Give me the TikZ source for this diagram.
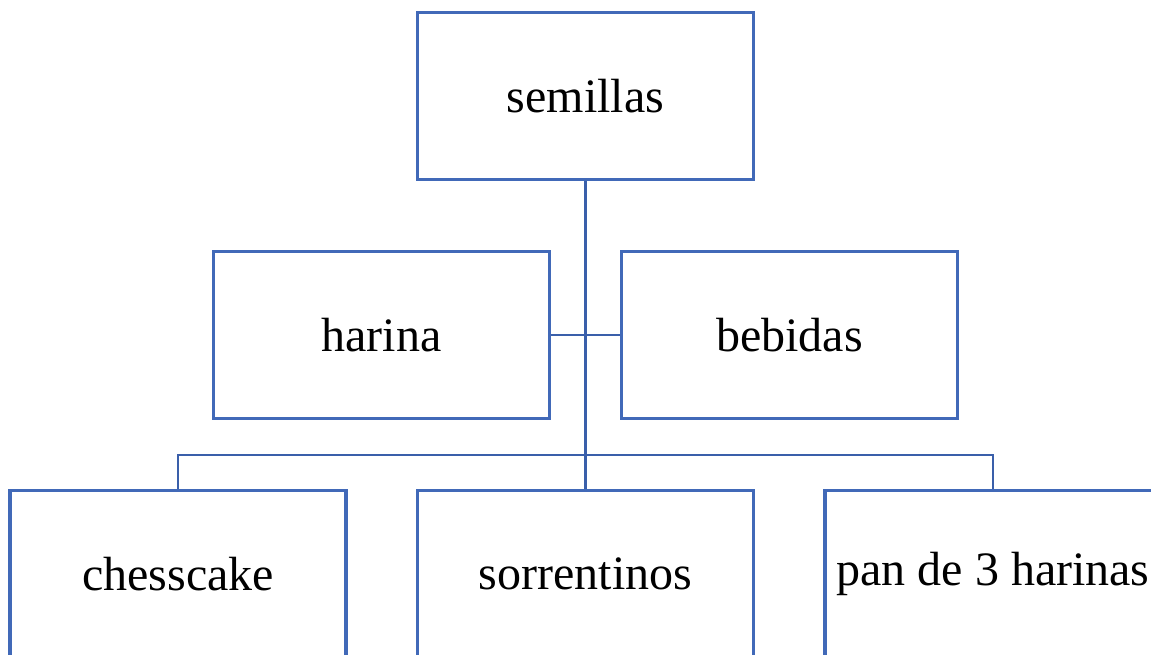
\documentclass[tikz,border=0pt]{standalone}
\usepackage{fontspec}
\setmainfont{Liberation Serif}
\definecolor{boxblue}{HTML}{4169B8}
\definecolor{linkblue}{HTML}{3A5FAA}
\begin{document}
\begin{tikzpicture}[x=1pt,y=-1pt,
  box/.style={draw=boxblue,line width=3.5pt,fill=white,minimum width=336pt,minimum height=167pt,inner sep=0pt,font=\fontsize{48}{56}\selectfont,anchor=center},
  link/.style={draw=linkblue,line width=2.5pt}]
\useasboundingbox (0,0) rectangle (1151,654);
\clip (0,0) rectangle (1151,654);
\coordinate (bus) at (585.5,455);
\node[box] (semillas) at (585.5,96) {semillas};
\node[box] (harina) at (381.5,335) {harina};
\node[box] (bebidas) at (789.5,335) {bebidas};
\node[box] (chess) at (178,574) {chesscake};
\node[box] (sorr) at (585.5,574) {sorrentinos};
\node[box] (pan) at (993,574) {pan de 3 harinas};
\draw[link] (semillas.south) -- (bus);
\draw[link] (harina.east) -- (bebidas.west);
\draw[link] (bus) -| (chess.north);
\draw[link] (bus) -| (pan.north);
\draw[link] (bus) -- (sorr.north);
\end{tikzpicture}
\end{document}
